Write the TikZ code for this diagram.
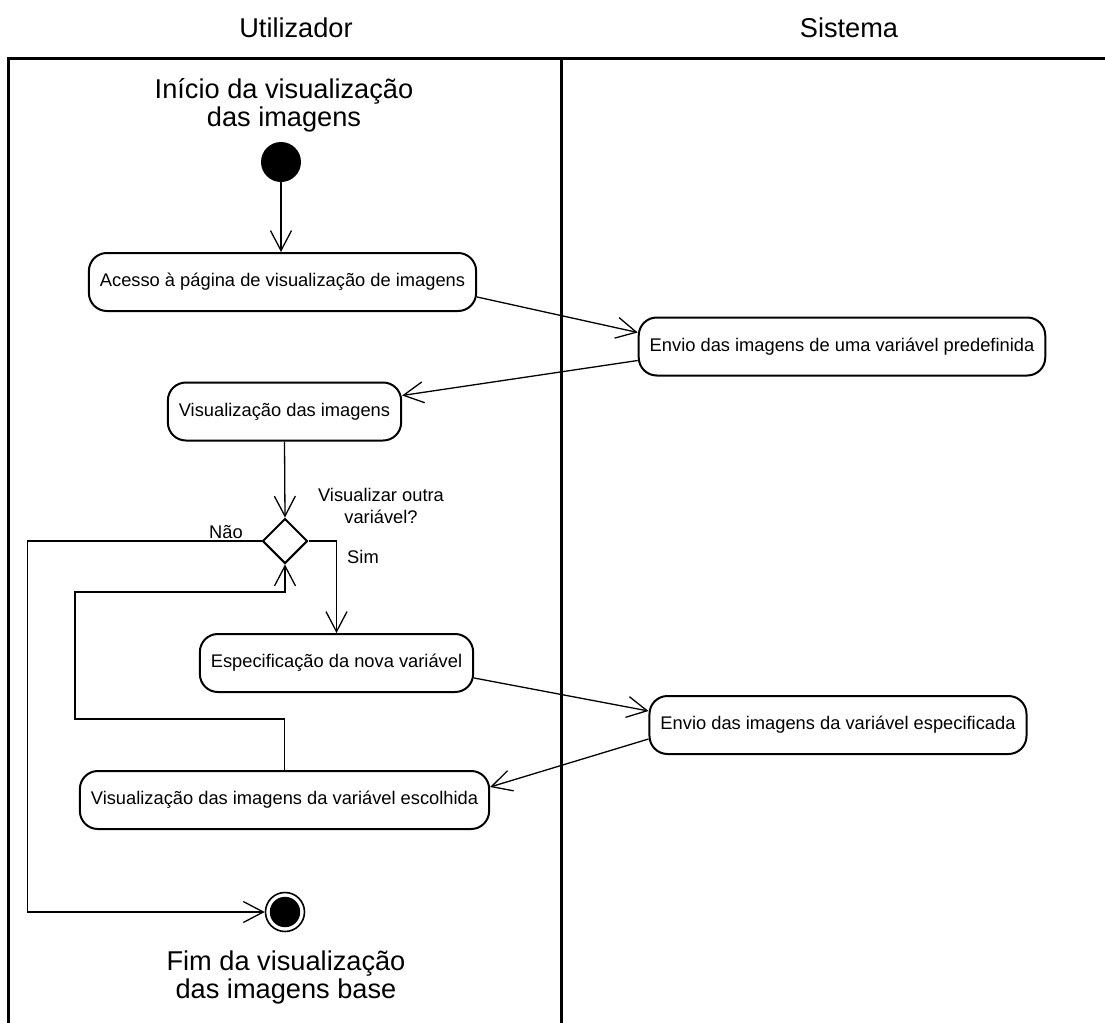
\documentclass[tikz,border=0pt]{standalone}
\usepackage{fontspec}
\setmainfont{Liberation Sans}
\usetikzlibrary{shapes.geometric, arrows.meta, positioning, calc}
\tikzset{
  action/.style={rectangle, draw, rounded corners=9pt, line width=1pt,
    minimum height=29pt, inner xsep=5.5pt, font=\fontsize{9.15}{11}\selectfont},
  decision/.style={diamond, draw, line width=1pt, minimum size=22.5pt, inner sep=0pt},
  startstate/.style={circle, fill=black, minimum size=20pt, inner sep=0pt},
  endstate/.style={circle, draw, fill=white, line width=0.8pt, minimum size=19.5pt, inner sep=0pt},
  flow/.style={-{Straight Barb[length=10pt,width=10.5pt]}, line width=0.65pt},
  lane/.style={line width=1.5pt},
  bigtext/.style={font=\fontsize{13.6}{14}\selectfont, align=center},
  guard/.style={font=\fontsize{9.15}{11}\selectfont, align=center}
}
\begin{document}
\begin{tikzpicture}[x=0.5pt, y=-0.5pt]
  \useasboundingbox (0,0) rectangle (1105,1023);
  % Swimlanes
  \draw[lane] (8,1030) -- (8,58) -- (1110,58);
  \draw[lane] (561,58) -- (561,1030);
  \node[bigtext] (usr) at (296,27.5) {Utilizador};
  \node[bigtext] (sys) at (849,27.5) {Sistema};
  % Start
  \node[bigtext] (inicio) at (284,105) {Início da visualização\\das imagens};
  \node[startstate] (start) at (281,162) {};
  % Actions
  \node[action] (acesso) at (282.5,282) {Acesso à página de visualização de imagens};
  \node[action] (envio1) at (842,346.5) {Envio das imagens de uma variável predefinida};
  \node[action] (visual) at (284.5,411.5) {Visualização das imagens};
  % Decision
  \node[decision] (dec) at (285,541) {};
  \node[guard] (pergunta) at (381,506) {Visualizar outra\\variável?};
  \node[guard] (nao) at (226,532) {Não};
  \node[guard] (sim) at (363,557) {Sim};
  \node[action] (espec) at (336.5,663) {Especificação da nova variável};
  \node[action] (envio2) at (838,725) {Envio das imagens da variável especificada};
  \node[action] (escolha) at (284.5,800) {Visualização das imagens da variável escolhida};
  % End
  \node[endstate] (fim) at (285,912) {};
  \fill (fim.center) circle (7.6pt);
  \node[bigtext] (fimtxt) at (286,977) {Fim da visualização\\das imagens base};
  % Flows
  \draw[flow] (start) -- (start |- acesso.north);
  \draw[flow] ([yshift=-7.5pt]acesso.east) -- ([yshift=7pt]envio1.west);
  \draw[flow] ([yshift=-7pt]envio1.west) -- ([yshift=8pt]visual.east);
  \draw[flow] (visual.south) -- (dec.north);
  \coordinate (naoleft) at (27.5,541);
  \draw[flow] (dec.west) -- (naoleft) |- (fim.west);
  \draw[flow] (dec.east) -| (espec.north);
  \draw[flow] ([yshift=-7.5pt]espec.east) -- ([yshift=7pt]envio2.west);
  \draw[flow] ([yshift=-7pt]envio2.west) -- ([yshift=6.5pt]escolha.east);
  % Loop back to decision
  \coordinate (loopbot) at (75,719);
  \coordinate (looptop) at (75,592);
  \draw[flow] (escolha.north) |- (loopbot) -- (looptop) -| (dec.south);
\end{tikzpicture}
\end{document}
